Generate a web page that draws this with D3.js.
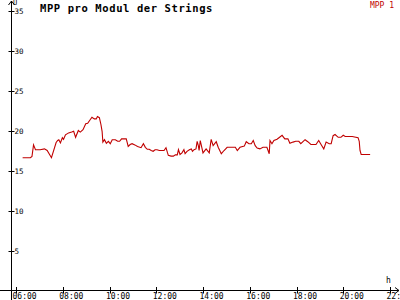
<!DOCTYPE html>
<html>
<head>
<meta charset="utf-8">
<script src="https://cdn.jsdelivr.net/npm/d3@7"></script>
<style>
  html, body { margin: 0; padding: 0; background: #fff; }
  svg { display: block; }
</style>
</head>
<body>
<svg id="chart" width="400" height="300"></svg>
<script>
const title = "MPP pro Modul der Strings";
const seriesName = "MPP 1";
const yTicks = [5, 10, 15, 20, 25, 30, 35];
const xTicks = [6, 8, 10, 12, 14, 16, 18, 20, 22];

const times = [
  "06:17", "06:37", "06:41", "06:45", "06:50", "07:02", "07:13", "07:20", "07:31", "07:43",
  "07:47", "07:50", "07:54", "07:59", "08:02", "08:07", "08:15", "08:23", "08:28", "08:33",
  "08:40", "08:45", "08:52", "08:59", "09:04", "09:09", "09:15", "09:21", "09:26", "09:29",
  "09:34", "09:38", "09:41", "09:43", "09:47", "09:52", "09:57", "10:02", "10:07", "10:15",
  "10:21", "10:26", "10:31", "10:38", "10:43", "10:48", "10:53", "10:58", "11:05", "11:12",
  "11:21", "11:27", "11:32", "11:37", "11:42", "11:47", "11:52", "11:57", "12:02", "12:08",
  "12:13", "12:20", "12:25", "12:29", "12:31", "12:38", "12:44", "12:49", "12:54", "12:57",
  "13:01", "13:06", "13:11", "13:14", "13:19", "13:25", "13:30", "13:33", "13:37", "13:42",
  "13:45", "13:48", "13:50", "13:53", "14:00", "14:08", "14:16", "14:21", "14:26", "14:34",
  "14:39", "14:47", "14:54", "15:02", "15:12", "15:23", "15:28", "15:35", "15:46", "15:51",
  "15:58", "16:04", "16:09", "16:14", "16:19", "16:26", "16:34", "16:44", "16:47", "16:50",
  "16:52", "16:57", "17:02", "17:10", "17:15", "17:23", "17:30", "17:38", "17:43", "17:51",
  "17:58", "18:06", "18:11", "18:22", "18:29", "18:37", "18:50", "18:57", "19:05", "19:10",
  "19:16", "19:24", "19:29", "19:34", "19:39", "19:47", "19:54", "20:00", "20:05", "20:12",
  "20:23", "20:38", "20:41", "20:43", "20:46", "20:53", "21:09"
];

const values = [
  16.6, 16.6, 16.75, 18.2, 17.6, 17.6, 17.7, 17.5, 16.6, 18.5,
  18.75, 18.85, 18.45, 19.1, 18.9, 19.45, 19.7, 19.8, 19.9, 19.15,
  20.0, 19.8, 20.1, 20.85, 20.9, 21.25, 21.65, 21.45, 21.45, 21.75,
  21.6, 20.75, 19.9, 18.55, 18.85, 18.4, 18.65, 18.35, 18.85, 18.85,
  18.65, 18.65, 18.95, 18.95, 18.95, 18.0, 18.25, 18.35, 18.2, 18.0,
  17.85, 18.35, 17.9, 17.65, 17.65, 17.5, 17.4, 17.6, 17.6, 17.5,
  17.5, 17.5, 17.85, 17.2, 16.9, 16.8, 16.8, 16.95, 16.95, 17.6,
  17.0, 17.2, 17.6, 17.1, 17.4, 17.6, 17.7, 17.4, 17.6, 17.7,
  18.65, 18.1, 17.5, 18.75, 17.2, 17.7, 17.2, 18.9, 18.1, 18.6,
  17.9, 17.1, 17.5, 17.9, 17.9, 17.9, 17.5, 17.9, 18.05, 18.6,
  18.35, 18.35, 18.75, 18.1, 17.8, 17.7, 17.9, 17.9, 17.5, 17.1,
  18.75, 18.35, 18.75, 18.9, 19.1, 19.4, 18.95, 18.95, 18.4, 18.55,
  18.65, 18.65, 18.35, 18.85, 18.6, 18.25, 18.25, 18.75, 18.1, 17.7,
  18.55, 18.35, 18.35, 19.35, 19.5, 19.15, 19.15, 19.4, 19.25, 19.25,
  19.25, 19.1, 18.65, 17.5, 17.0, 17.0, 17.0
];

const lineColor = "#c00000";
const font = "'DejaVu Sans Mono', 'Liberation Mono', monospace";

const svg = d3.select("#chart");

const toHours = (t) => {
  const [h, m] = t.split(":").map(Number);
  return h + m / 60;
};

const points = times.map((t, i) => ({ hour: toHours(t), value: values[i] }));

const x = d3.scaleLinear().domain([6, 22]).range([16, 390]);
const y = d3.scaleLinear().domain([0, 35]).range([290.5, 10.5]);
const axisX = 11;
const axisY = 290.5;

// axes lines
svg.append("line")
  .attr("x1", axisX + 0.5).attr("x2", axisX + 0.5)
  .attr("y1", 1).attr("y2", 300)
  .attr("stroke", "#000").attr("stroke-width", 1);

svg.append("line")
  .attr("x1", 0).attr("x2", 399)
  .attr("y1", axisY).attr("y2", axisY)
  .attr("stroke", "#000").attr("stroke-width", 1);

// arrow heads
svg.append("path")
  .attr("d", `M${axisX - 2.5},5 L${axisX + 0.5},1 L${axisX + 3.5},5`)
  .attr("fill", "none").attr("stroke", "#000");

svg.append("path")
  .attr("d", `M395,${axisY - 3} L399,${axisY} L395,${axisY + 3}`)
  .attr("fill", "none").attr("stroke", "#000");

// y ticks
const yTick = svg.append("g");
yTick.selectAll("line")
  .data(yTicks)
  .join("line")
  .attr("x1", axisX - 2.5)
  .attr("x2", axisX + 3.5)
  .attr("y1", (d) => Math.round(y(d)) + 0.5)
  .attr("y2", (d) => Math.round(y(d)) + 0.5)
  .attr("stroke", "#000");

yTick.selectAll("text")
  .data(yTicks)
  .join("text")
  .attr("x", axisX + 3.5)
  .attr("y", (d) => Math.round(y(d)) + 3)
  .attr("font-family", font)
  .attr("font-size", 7.5)
  .attr("fill", "#000")
  .text((d) => d);

// x ticks
const xTick = svg.append("g");
xTick.selectAll("line")
  .data(xTicks)
  .join("line")
  .attr("x1", (d) => Math.round(x(d)) + 0.5)
  .attr("x2", (d) => Math.round(x(d)) + 0.5)
  .attr("y1", axisY - 3.5)
  .attr("y2", axisY + 3)
  .attr("stroke", "#000");

xTick.selectAll("text")
  .data(xTicks)
  .join("text")
  .attr("x", (d) => x(d) - 3.5)
  .attr("y", 299)
  .attr("font-family", font)
  .attr("font-size", 8)
  .attr("fill", "#000")
  .text((d) => `${String(d).padStart(2, "0")}:00`);

// axis unit labels
svg.append("text")
  .attr("x", 13).attr("y", 5)
  .attr("font-family", font).attr("font-size", 7)
  .attr("fill", "#000")
  .text("U");

svg.append("text")
  .attr("x", 386).attr("y", 283)
  .attr("font-family", font).attr("font-size", 8)
  .attr("fill", "#000")
  .text("h");

// title and legend
svg.append("text")
  .attr("x", 40).attr("y", 11.5)
  .attr("font-family", font).attr("font-size", 10.5)
  .attr("font-weight", "bold")
  .attr("letter-spacing", 0.6)
  .attr("fill", "#000")
  .text(title);

svg.append("text")
  .attr("x", 394).attr("y", 8)
  .attr("text-anchor", "end")
  .attr("font-family", font).attr("font-size", 8)
  .attr("fill", lineColor)
  .text(seriesName);

// data line
const line = d3.line()
  .x((d) => x(d.hour))
  .y((d) => y(d.value));

svg.append("path")
  .datum(points)
  .attr("fill", "none")
  .attr("stroke", lineColor)
  .attr("stroke-width", 1.1)
  .attr("d", line);
</script>
</body>
</html>
